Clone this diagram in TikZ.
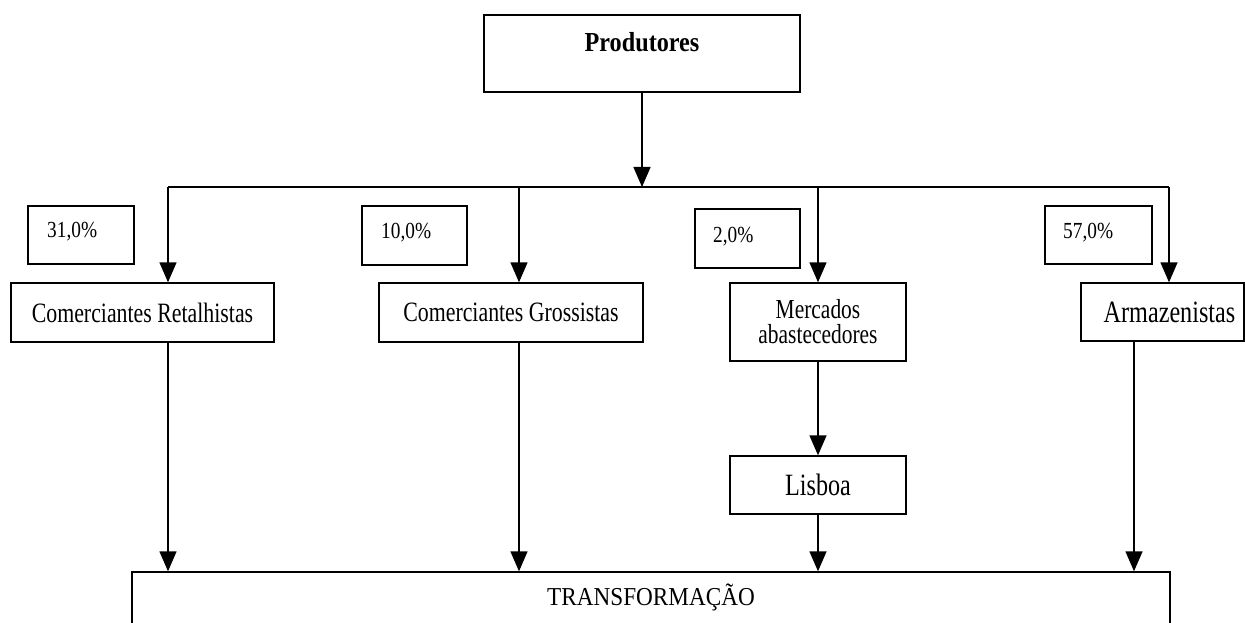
\documentclass[tikz,border=0pt]{standalone}
\usepackage{fontspec}
\setmainfont{Liberation Serif}[FakeStretch=0.88]
\newfontfamily\fcA{Liberation Serif}[FakeStretch=0.78]
\newfontfamily\fcP{Liberation Serif}[FakeStretch=0.84]
\newfontfamily\fcT{Liberation Serif}[FakeStretch=0.9]
\usetikzlibrary{arrows.meta}
\begin{document}
\begin{tikzpicture}[x=1pt,y=-1pt,
  bx/.style={draw, line width=1.4pt, inner sep=0pt, align=center},
  conn/.style={line width=1.4pt},
  arr/.style={line width=1.4pt, -{Triangle[width=17pt,length=20pt]}},
  txt/.style={inner sep=0pt, anchor=base west},
  fa/.style={font=\fcA\fontsize{28}{25}\selectfont},
  fb/.style={font=\fcA\fontsize{31}{31}\selectfont},
  fp/.style={font=\fcP\fontsize{23}{23}\selectfont},
]
\useasboundingbox (0,0) rectangle (1245,623);
\clip (0,0) rectangle (1245,623);

% top box
\node[bx, minimum width=316pt, minimum height=77pt] (prod) at (642,53.5) {};
\node[inner sep=0pt, anchor=base, font=\fontsize{27.5}{27.5}\selectfont\bfseries] (prodt) at (642,52) {Produtores};

% percentage boxes
\node[bx, minimum width=106pt, minimum height=58pt] (p31) at (81,235) {};
\node[txt, fp] (t31) at (47,237) {31,0\%};
\node[bx, minimum width=105pt, minimum height=59pt] (p10) at (414.5,235.5) {};
\node[txt, fp] (t10) at (381,238) {10,0\%};
\node[bx, minimum width=105pt, minimum height=59pt] (p2) at (747.5,238.5) {};
\node[txt, fp] (t2) at (713,242) {2,0\%};
\node[bx, minimum width=107pt, minimum height=58pt] (p57) at (1098.5,235) {};
\node[txt, fp] (t57) at (1063,238) {57,0\%};

% middle boxes
\node[bx, fa, minimum width=263pt, minimum height=59pt] (ret) at (142.5,312.5) {Comerciantes Retalhistas};
\node[bx, fa, minimum width=264pt, minimum height=59pt] (gro) at (511,312.5) {Comerciantes Grossistas};
\node[bx, font=\fcA\fontsize{27.5}{25}\selectfont, minimum width=176pt, minimum height=78pt] (mer) at (818,322) {Mercados\\abastecedores};
\node[bx, fb, minimum width=163pt, minimum height=58pt] (arm) at (1162.5,312) {\hspace*{14pt}Armazenistas};
\node[bx, fb, minimum width=176pt, minimum height=58pt] (lis) at (818,485) {Lisboa};

% bottom box
\node[bx, minimum width=1038pt, minimum height=100pt] (trans) at (651,622) {};
\node[inner sep=0pt, anchor=base, font=\fcT\fontsize{25.8}{25.8}\selectfont] (transt) at (651,605) {TRANSFORMAÇÃO};

% bus
\coordinate (b1) at (168,187);
\coordinate (b2) at (519,187);
\coordinate (b3) at (818,187);
\coordinate (b4) at (1169,187);
\coordinate (d4) at (1134,187);
\draw[conn] (b1) -- (b4);
\draw[arr] (prod.south) -- (prod.south |- b1);
\draw[arr] (b1) -- (b1 |- ret.north);
\draw[arr] (b2) -- (b2 |- gro.north);
\draw[arr] (b3) -- (mer.north);
\draw[arr] (b4) -- (b4 |- arm.north);

% downward
\draw[arr] (b1 |- ret.south) -- (b1 |- trans.north);
\draw[arr] (b2 |- gro.south) -- (b2 |- trans.north);
\draw[arr] (mer.south) -- (lis.north);
\draw[arr] (lis.south) -- (lis.south |- trans.north);
\draw[arr] (d4 |- arm.south) -- (d4 |- trans.north);
\end{tikzpicture}
\end{document}
